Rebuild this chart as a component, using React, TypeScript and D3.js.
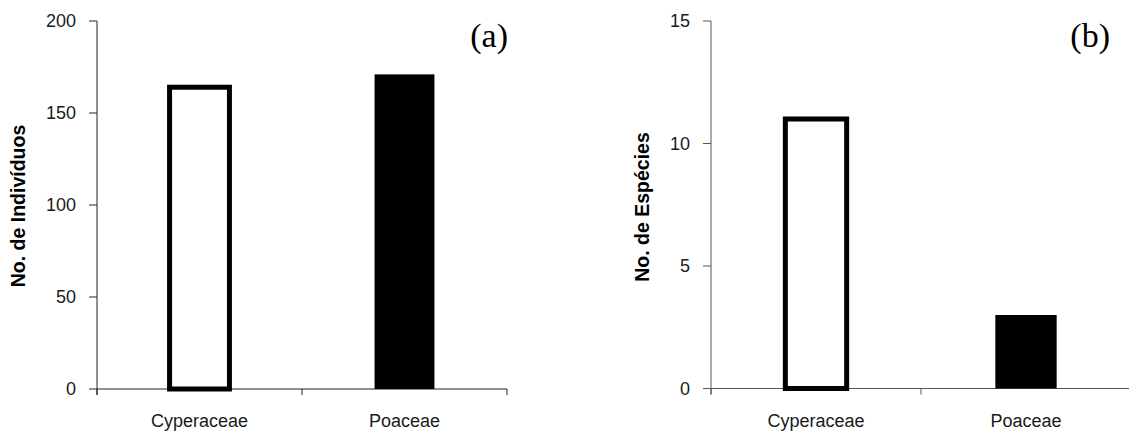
import React from "react";
import * as d3 from "d3";

const categories = ["Cyperaceae", "Poaceae"];
const individuos = [164, 171];
const especies = [11, 3];
const ticksA = [0, 50, 100, 150, 200];
const ticksB = [0, 5, 10, 15];
const fills = ["white", "black"];

type PanelProps = {
  values: number[];
  ticks: number[];
  max: number;
  x0: number;
  x1: number;
  yTop: number;
  yBottom: number;
  title: string;
  titleX: number;
  titleY: number;
  label: string;
  labelX: number;
  axisColor: string;
};

function Panel(p: PanelProps) {
  const x = d3.scaleBand<string>().domain(categories).range([p.x0, p.x1]).padding(0);
  const y = d3.scaleLinear().domain([0, p.max]).range([p.yBottom, p.yTop]);
  const bw = x.bandwidth() * 0.292;
  const font = "Arial, 'Liberation Sans', sans-serif";
  const edges = [p.x0, ...categories.map((c) => (x(c) as number) + x.bandwidth())];
  return (
    <g>
      <line x1={p.x0} x2={p.x0} y1={p.yTop} y2={p.yBottom + 6} stroke={p.axisColor} strokeWidth={1} />
      {p.ticks.map((t) => (
        <g key={t}>
          <line x1={p.x0 - 8} x2={p.x0} y1={y(t)} y2={y(t)} stroke={p.axisColor} strokeWidth={1} />
          <text x={p.x0 - 21} y={y(t)} dy="0.35em" textAnchor="end" fontFamily={font} fontSize={18} fill="#1a1a1a">
            {t}
          </text>
        </g>
      ))}
      <line x1={p.x0} x2={p.x1} y1={p.yBottom} y2={p.yBottom} stroke={p.axisColor} strokeWidth={1} />
      {edges.map((e, i) => (
        <line key={i} x1={e} x2={e} y1={p.yBottom} y2={p.yBottom + 6} stroke={p.axisColor} strokeWidth={1} />
      ))}
      {categories.map((c, i) => {
        const cx = (x(c) as number) + x.bandwidth() / 2;
        const v = p.values[i];
        const outlined = fills[i] === "white";
        return (
          <g key={c}>
            <rect
              x={cx - bw / 2}
              y={y(v)}
              width={bw}
              height={y(0) - y(v)}
              fill={fills[i]}
              stroke={outlined ? "black" : "none"}
              strokeWidth={outlined ? 5 : 0}
            />
            <text x={cx} y={p.yBottom + 38} textAnchor="middle" fontFamily={font} fontSize={18} fill="#1a1a1a">
              {c}
            </text>
          </g>
        );
      })}
      <text
        transform={`translate(${p.titleX},${p.titleY}) rotate(-90)`}
        dy="0.35em"
        textAnchor="middle"
        fontFamily={font}
        fontWeight="bold"
        fontSize={19.5}
        fill="#000"
      >
        {p.title}
      </text>
      <text x={p.labelX} y={47} textAnchor="end" fontFamily="'Times New Roman', 'Liberation Serif', serif" fontSize={34} fill="#000">
        {p.label}
      </text>
    </g>
  );
}

export default function App() {
  return (
    <svg
      width={1129}
      height={434}
      style={{ position: "absolute", left: 0, top: 0, background: "white" }}
    >
      <rect x={0} y={0} width={1129} height={434} fill="white" />
      <Panel
        values={individuos}
        ticks={ticksA}
        max={200}
        x0={97}
        x1={507}
        yTop={21}
        yBottom={389}
        title="No. de Indivíduos"
        titleX={18}
        titleY={206}
        label="(a)"
        labelX={508}
        axisColor="#222"
      />
      <Panel
        values={especies}
        ticks={ticksB}
        max={15}
        x0={711}
        x1={1131}
        yTop={21}
        yBottom={388.5}
        title="No. de Espécies"
        titleX={642}
        titleY={207}
        label="(b)"
        labelX={1110}
        axisColor="#555"
      />
    </svg>
  );
}
